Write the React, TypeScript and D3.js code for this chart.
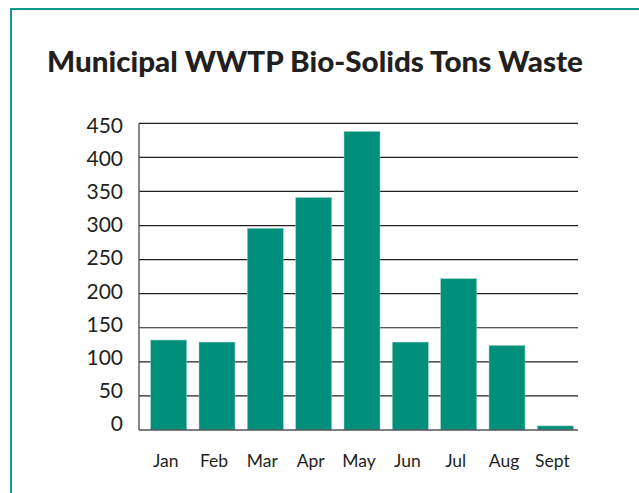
import React from "react";
import * as d3 from "d3";

const months = ["Jan", "Feb", "Mar", "Apr", "May", "Jun", "Jul", "Aug", "Sept"];
const tons = [132, 129, 296, 341, 438, 129, 222, 124, 6];
const yTicks = [0, 50, 100, 150, 200, 250, 300, 350, 400, 450];

const W = 639;
const H = 493;
const teal = "#008f7a";

export default function App() {
  const left = 139;
  const right = 578;
  const top = 123.3;
  const bottom = 430;

  const x = d3
    .scaleBand<string>()
    .domain(months)
    .range([144.5, 579.5])
    .paddingInner(0.256)
    .paddingOuter(0.128);
  const y = d3.scaleLinear().domain([0, 450]).range([bottom, top]);

  return (
    <svg
      width={W}
      height={H}
      style={{ position: "fixed", left: 0, top: 0, background: "#fff" }}
      fontFamily="Lato, 'Open Sans', sans-serif"
    >
      {/* outer frame, runs off the right and bottom */}
      <rect x={11} y={9} width={W} height={H} fill="none" stroke="#11998a" strokeWidth={2} />

      <text
        x={47}
        y={72}
        fontSize={28.5}
        fontWeight={900}
        fill="#231f20"
        textLength={536}
        lengthAdjust="spacingAndGlyphs"
      >
        Municipal WWTP Bio-Solids Tons Waste
      </text>

      {/* grid */}
      {yTicks.map((t) => (
        <g key={t}>
          {t > 0 && (
            <line x1={left} x2={right} y1={y(t)} y2={y(t)} stroke="#231f20" strokeWidth={1.2} />
          )}
          <text
            x={123}
            y={y(t) + (t - 225) * 0.02}
            textAnchor="end"
            dominantBaseline="middle"
            fontSize={21}
            fill="#231f20"
          >
            {t}
          </text>
        </g>
      ))}

      {/* bars */}
      {months.map((m, i) => (
        <rect
          key={m}
          x={x(m)}
          y={y(tons[i])}
          width={x.bandwidth()}
          height={bottom - y(tons[i])}
          fill={teal}
          stroke="#8fd0c4"
          strokeWidth={0.5}
        />
      ))}

      {/* axes */}
      <line x1={left} x2={left} y1={top} y2={bottom} stroke="#555" strokeWidth={1.4} />
      <line x1={left} x2={right} y1={bottom} y2={bottom} stroke="#555" strokeWidth={1.4} />

      {months.map((m) => (
        <text
          key={m}
          x={(x(m) ?? 0) + x.bandwidth() / 2 - 3}
          y={467}
          textAnchor="middle"
          fontSize={17.5}
          fill="#231f20"
        >
          {m}
        </text>
      ))}
    </svg>
  );
}
